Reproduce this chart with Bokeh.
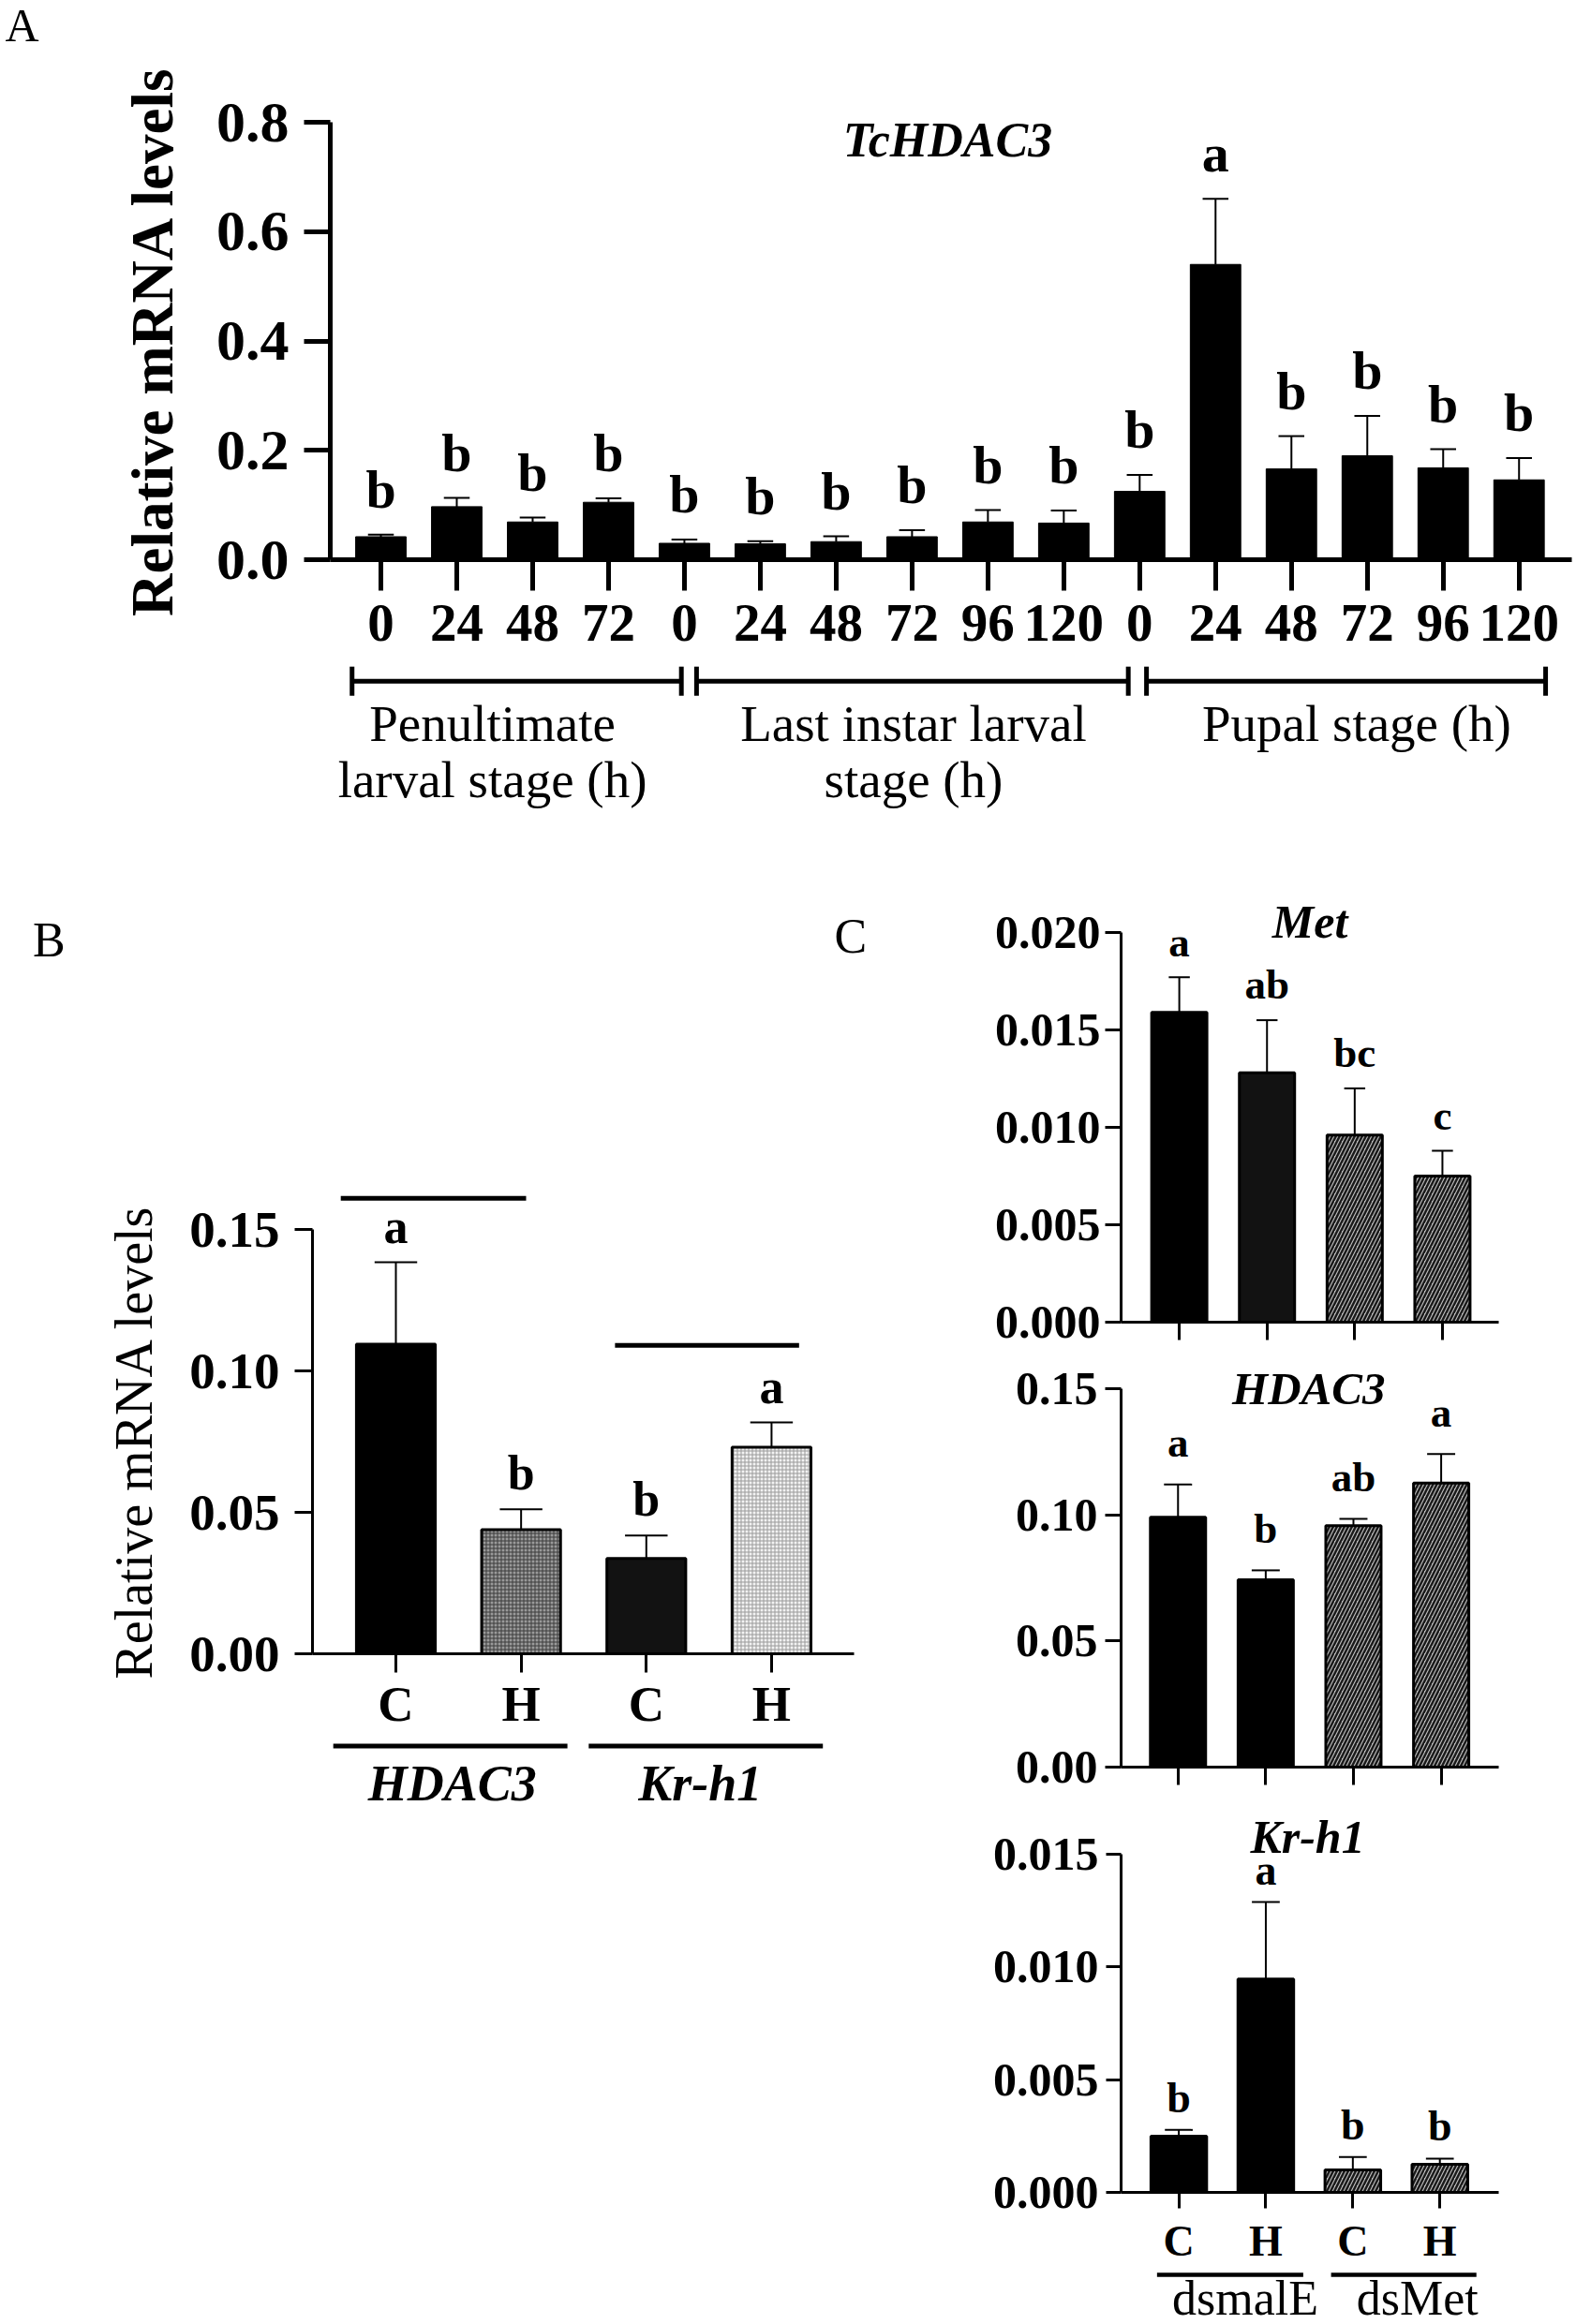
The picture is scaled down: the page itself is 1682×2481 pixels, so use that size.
from bokeh.plotting import figure
from bokeh.models import Range1d, FixedTicker, PrintfTickFormatter
from bokeh.layouts import column, row
from bokeh.core.properties import value
from bokeh.embed import file_html
from bokeh.resources import INLINE

SERIF = "Liberation Serif"

# ---------------- data ----------------
# Panel A: TcHDAC3 developmental expression
a_hours = ["0", "24", "48", "72", "0", "24", "48", "72", "96", "120",
           "0", "24", "48", "72", "96", "120"]
a_mean = [0.042, 0.097, 0.069, 0.105, 0.030, 0.029, 0.033, 0.042, 0.069, 0.067,
          0.125, 0.540, 0.166, 0.190, 0.168, 0.146]
a_err = [0.004, 0.016, 0.008, 0.007, 0.007, 0.005, 0.010, 0.012, 0.022, 0.023,
         0.030, 0.120, 0.060, 0.073, 0.034, 0.040]
a_letters = ["b", "b", "b", "b", "b", "b", "b", "b", "b", "b",
             "b", "a", "b", "b", "b", "b"]
a_stage_names = [["Penultimate", "larval stage (h)"],
                 ["Last instar larval", "stage (h)"],
                 ["Pupal stage (h)"]]

# Panel B: C / H treatment
b_groups = ["HDAC3", "Kr-h1"]
b_ticks = ["C", "H", "C", "H"]
b_mean = [0.1094, 0.0439, 0.0337, 0.0730]
b_err = [0.0290, 0.0072, 0.0081, 0.0088]
b_letters = ["a", "b", "b", "a"]
b_fills = ["black", "checker_dark", "nearblack", "checker_light"]

# Panel C: dsmalE / dsMet
c_groups = ["dsmalE", "dsMet"]
c_ticks = ["C", "H", "C", "H"]
c_met_mean = [0.0159, 0.0128, 0.0096, 0.0075]
c_met_err = [0.0018, 0.0027, 0.0024, 0.0013]
c_met_letters = ["a", "ab", "bc", "c"]
c_hdac_mean = [0.0990, 0.0743, 0.0957, 0.1126]
c_hdac_err = [0.0130, 0.0037, 0.0027, 0.0115]
c_hdac_letters = ["a", "b", "ab", "a"]
c_kr_mean = [0.00249, 0.00946, 0.00100, 0.00125]
c_kr_err = [0.00028, 0.00342, 0.00057, 0.00025]
c_kr_letters = ["b", "a", "b", "b"]
c_met_fills = ["black", "nearblack", "hatch", "hatch"]
c_fills = ["black", "black", "hatch", "hatch"]

# ---------------- styles ----------------
STYLES = {
    "black": dict(fill_color="black"),
    "nearblack": dict(fill_color="#121212"),
    "checker_dark": dict(fill_color="#9a9a9a", hatch_pattern="+", hatch_color="#3a3a3a",
                         hatch_scale=4, hatch_weight=1),
    "checker_light": dict(fill_color="#f2f2f2", hatch_pattern="+", hatch_color="#9a9a9a",
                          hatch_scale=4, hatch_weight=1),
    "hatch": dict(fill_color="#c0c0c0", hatch_pattern="/", hatch_color="#1a1a1a",
                  hatch_scale=8, hatch_weight=2.5),
}

BASE_SHIFT = 0.33  # em: lifts overlay texts so their baseline sits where intended
PPU = {}


def make_fig(w, h, xr, yr, left, right, top, bottom):
    p = figure(width=w, height=h, x_range=Range1d(*xr), y_range=Range1d(*yr),
               output_backend="svg", toolbar_location=None, title=None,
               min_border_left=left, min_border_right=right,
               min_border_top=top, min_border_bottom=bottom)
    p.xgrid.visible = False
    p.ygrid.visible = False
    p.outline_line_color = None
    p.background_fill_color = "white"
    p.border_fill_color = "white"
    for ax in (p.xaxis[0], p.yaxis[0]):
        ax.minor_tick_line_color = None
        ax.major_tick_in = 0
        ax.axis_line_color = "black"
        ax.major_tick_line_color = "black"
        ax.major_label_text_font = SERIF
        ax.major_label_text_font_style = "bold"
        ax.major_label_text_color = "black"
        ax.axis_label_text_font = SERIF
        ax.axis_label_text_color = "black"
    PPU[id(p)] = (h - top - bottom) / (yr[1] - yr[0])
    return p


def lift(p, size):
    return BASE_SHIFT * float(size.replace("px", "")) / PPU[id(p)]


def style_axes(p, yticks, yfmt, ysize, ytick_len, ystand, xticks, xlabels, xsize,
               xtick_len, xstand, lw):
    ya = p.yaxis[0]
    ya.ticker = FixedTicker(ticks=yticks)
    ya.formatter = PrintfTickFormatter(format=yfmt)
    ya.major_label_text_font_size = ysize
    ya.major_tick_out = ytick_len
    ya.major_label_standoff = ystand
    ya.axis_line_width = lw
    ya.major_tick_line_width = lw
    xa = p.xaxis[0]
    xa.ticker = FixedTicker(ticks=xticks)
    if xlabels is None:
        xa.major_label_text_font_size = "1px"
        xa.major_label_text_alpha = 0
        xa.major_label_standoff = 0
    else:
        xa.major_label_overrides = {t: l for t, l in zip(xticks, xlabels)}
        xa.major_label_text_font_size = xsize
        xa.major_label_standoff = xstand
    xa.major_tick_out = xtick_len
    xa.axis_line_width = lw
    xa.major_tick_line_width = lw


def draw_bars(p, means, errs, fills, width, outline, err_w, cap_half, letters, gap, lsize):
    idx = list(range(len(means)))
    for style in dict.fromkeys(fills):
        sel = [i for i in idx if fills[i] == style]
        p.vbar(x=sel, top=[means[i] for i in sel], bottom=0, width=width,
               line_color="black", line_width=outline, **STYLES[style])
    tops = [m + e for m, e in zip(means, errs)]
    p.segment(x0=idx, y0=means, x1=idx, y1=tops, line_color="black", line_width=err_w)
    p.segment(x0=[i - cap_half for i in idx], y0=tops, x1=[i + cap_half for i in idx],
              y1=tops, line_color="black", line_width=err_w)
    d = lift(p, lsize)
    p.text(x=idx, y=[t + gap + d for t in tops], text=letters, text_align="center",
           text_baseline="alphabetic", text_font=value(SERIF), text_font_style="bold",
           text_font_size=lsize, text_color="black", level="overlay")


def label(p, x, y, txt, size, style="normal", align="center"):
    p.text(x=[x], y=[y + lift(p, size)], text=[txt], text_align=align,
           text_baseline="alphabetic", text_font=value(SERIF), text_font_style=style,
           text_font_size=size, text_color="black", level="overlay")


def hline(p, x0, x1, y, lw):
    p.segment(x0=[x0], y0=[y], x1=[x1], y1=[y], line_color="black", line_width=lw,
              level="overlay")


# ---------------- Panel A ----------------
pa = make_fig(1682, 898, (-0.667, 15.695), (0, 0.8), 352, 5, 130, 301)
n_a = len(a_mean)
style_axes(pa, [0, 0.2, 0.4, 0.6, 0.8], "%.1f", "62px", 28, 16,
           list(range(n_a)), a_hours, "57px", 33, 15, 5)
pa.yaxis[0].axis_label = "Relative mRNA levels"
pa.yaxis[0].axis_label_text_font_size = "63px"
pa.yaxis[0].axis_label_text_font_style = "bold"
pa.yaxis[0].axis_label_standoff = 30
draw_bars(pa, a_mean, a_err, ["black"] * n_a, 0.665, 1, 2, 0.17, a_letters, 0.05, "58px")
label(pa, 7.47, 0.738, "TcHDAC3", "52px", "bold italic")
label(pa, -4.952, 0.949, "A", "50px", "normal", "left")
# stage brackets
stage_spans = [(-0.38, 3.96), (4.16, 9.85), (10.09, 15.35)]
stage_centers = [1.47, 7.02, 12.86]
br_y, cap = -0.2222, 0.0266
for (s, e), c, names in zip(stage_spans, stage_centers, a_stage_names):
    hline(pa, s, e, br_y, 5)
    pa.segment(x0=[s, e], y0=[br_y - cap] * 2, x1=[s, e], y1=[br_y + cap] * 2,
               line_color="black", line_width=5, level="overlay")
    for k, nm in enumerate(names):
        label(pa, c, -0.3306 - 0.1028 * k, nm, "55px", "normal")

# ---------------- Panel B ----------------
pb = make_fig(960, 1583, (-0.666, 3.659), (0, 0.15), 333, 49, 414, 716)
style_axes(pb, [0, 0.05, 0.10, 0.15], "%.2f", "55px", 19, 16,
           [0, 1, 2, 3], b_ticks, "53px", 20, 4, 3)
pb.yaxis[0].axis_label = "Relative mRNA levels"
pb.yaxis[0].axis_label_text_font_size = "56px"
pb.yaxis[0].axis_label_text_font_style = "normal"
pb.yaxis[0].axis_label_standoff = 25
draw_bars(pb, b_mean, b_err, b_fills, 0.63, 3, 2, 0.17, b_letters, 0.007, "52px")
hline(pb, -0.44, 1.04, 0.161, 5)
hline(pb, 1.75, 3.22, 0.109, 5)
for (s, e), c, g in zip([(-0.50, 1.37), (1.54, 3.41)], [0.45, 2.43], b_groups):
    hline(pb, s, e, -0.0326, 5)
    label(pb, c, -0.0519, g, "54px", "bold italic")
label(pb, -2.9005, 0.2468, "B", "52px", "normal", "left")
label(pb, 3.502, 0.2478, "C", "52px", "normal", "left")

# ---------------- Panel C ----------------
pc1 = make_fig(722, 547, (-0.6635, 3.6416), (0, 0.020), 234, 76, 97, 34)
style_axes(pc1, [0, 0.005, 0.010, 0.015, 0.020], "%.3f", "50px", 17, 5,
           [0, 1, 2, 3], None, None, 19, 0, 3)
draw_bars(pc1, c_met_mean, c_met_err, c_met_fills, 0.63, 3, 2, 0.12, c_met_letters,
          0.0011, "45px")
label(pc1, 1.49, 0.01975, "Met", "50px", "bold italic")

pc2 = make_fig(722, 480, (-0.649, 3.656), (0, 0.15), 234, 83, 37, 39)
style_axes(pc2, [0, 0.05, 0.10, 0.15], "%.2f", "50px", 17, 8,
           [0, 1, 2, 3], None, None, 19, 0, 3)
draw_bars(pc2, c_hdac_mean, c_hdac_err, c_fills, 0.63, 3, 2, 0.16, c_hdac_letters,
          0.011, "45px")
label(pc2, 1.49, 0.1441, "HDAC3", "49px", "bold italic")

pc3 = make_fig(722, 556, (-0.663, 3.676), (0, 0.015), 236, 65, 54, 141)
style_axes(pc3, [0, 0.005, 0.010, 0.015], "%.3f", "50px", 16, 8,
           [0, 1, 2, 3], c_ticks, "46px", 17, 9, 3)
draw_bars(pc3, c_kr_mean, c_kr_err, c_fills, 0.64, 3, 2, 0.16, c_kr_letters,
          0.0008, "46px")
label(pc3, 1.48, 0.01510, "Kr-h1", "50px", "bold italic")
for (s, e), c, g in zip([(-0.25, 1.43), (1.75, 3.42)], [0.763, 2.742], c_groups):
    hline(pc3, s, e, -0.003657, 4.5)
    label(pc3, c, -0.0054, g, "52px", "normal")

layout = column(pa, row(pb, column(pc1, pc2, pc3, spacing=0), spacing=0), spacing=0)

open("out.html", "w").write(file_html(layout, INLINE))
